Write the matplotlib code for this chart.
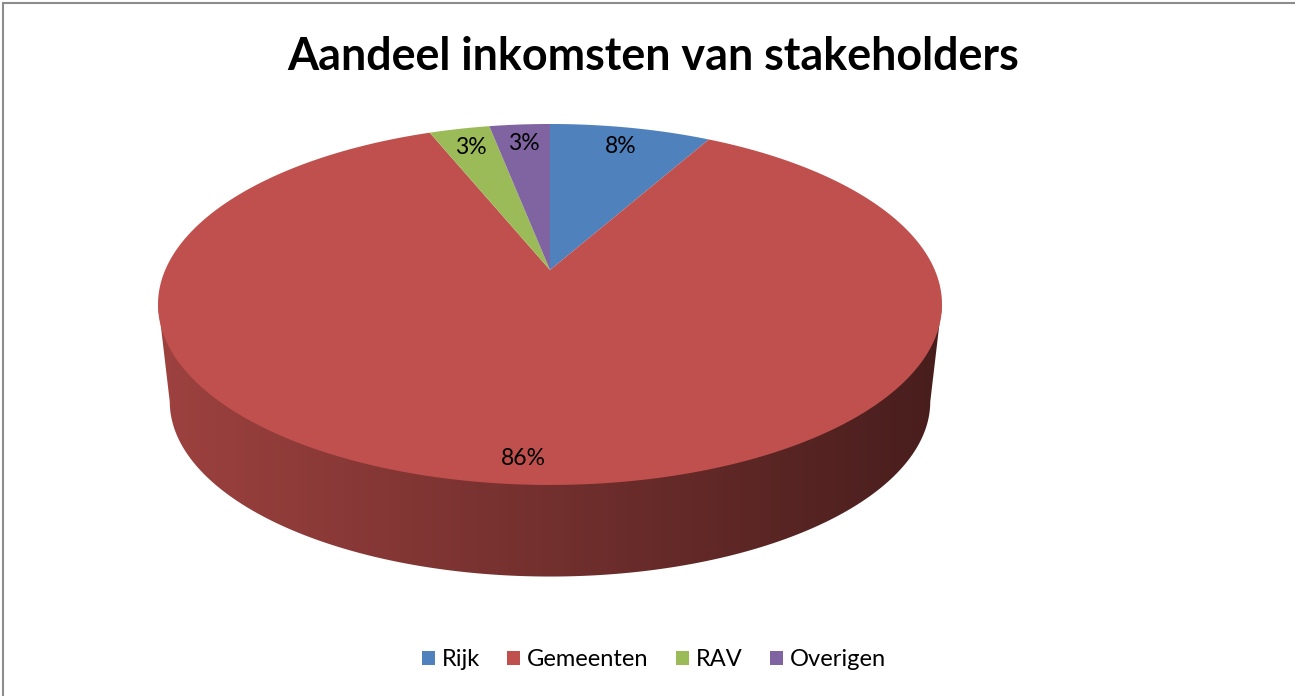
import numpy as np
import matplotlib
matplotlib.use("Agg")
import matplotlib.pyplot as plt
from matplotlib.patches import Polygon
from matplotlib.lines import Line2D
from matplotlib.path import Path
from matplotlib.transforms import Transform, Affine2D

# ---- data ----
categories = ["Rijk", "Gemeenten", "RAV", "Overigen"]
values = [8, 86, 3, 3]
pct_labels = ["8%", "86%", "3%", "3%"]
title = "Aandeel inkomsten van stakeholders"

# ---- style ----
colors = ["#4F81BD", "#C0504D", "#9BBB59", "#8064A2"]
label_radius = [0.85, 0.90, 0.85, 0.85]
FONT = ["Lato", "DejaVu Sans"]

W, H = 1295, 696
CX, CY = 550, 304          # pixel position of the ellipse centre (from top-left)
# perspective parameters (pixel units)
PA, PB, PC, PK = 384.8, 180.4, 34.0, 0.191
BOT_SCALE, BOT_DROP = 0.97, 97.0


def persp(uv):
    uv = np.asarray(uv, float)
    u, v = uv[:, 0], uv[:, 1]
    d = 1 + PK * v
    return np.column_stack([PA * u / d, (PB * v + PC) / d])


class Persp(Transform):
    input_dims = output_dims = 2

    def transform_non_affine(self, values):
        return persp(values)

    def transform_path_non_affine(self, path):
        S = 2000.0
        polys = path.to_polygons(transform=Affine2D().scale(S), closed_only=True)
        verts = np.vstack(polys) / S
        return Path(persp(verts), closed=True)


fig = plt.figure(figsize=(W / 100, H / 100), dpi=100)
ax = fig.add_axes([0, 0, 1, 1])

wedges, _ = ax.pie(values, colors=colors, startangle=90, counterclock=False,
                   radius=1, center=(0, 0), wedgeprops=dict(linewidth=0, zorder=3))
for w in wedges:
    w.set_transform(Persp() + ax.transData)

# side wall for the front-facing parts of each wedge
for w, col in zip(wedges, colors):
    t = np.linspace(w.theta1, w.theta2, 2000)
    front = np.sin(np.radians(t)) <= -PK
    if front.sum() < 2:
        continue
    tt = np.sort(np.radians(t[front]))
    top = persp(np.column_stack([np.cos(tt), np.sin(tt)]))
    bot = top[::-1] * BOT_SCALE
    bot[:, 1] -= BOT_DROP
    top_ext = top + np.array([0, 3.0])
    poly = Polygon(np.vstack([top_ext, bot]), closed=True, facecolor="none",
                   edgecolor="none", transform=ax.transData)
    ax.add_patch(poly)
    base = np.array(matplotlib.colors.to_rgb(col))
    x0, x1 = top[:, 0].min(), top[:, 0].max()
    fac = np.linspace(0.82, 0.37, 400)
    grad = (base[None, :] * fac[:, None])[None, :, :]
    im = ax.imshow(grad, extent=(x0, x1, bot[:, 1].min() - 2, top_ext[:, 1].max() + 2),
                   aspect="auto", zorder=1, interpolation="bilinear")
    im.set_clip_path(poly)

# percentage labels
for w, lab, r in zip(wedges, pct_labels, label_radius):
    mid = np.radians((w.theta1 + w.theta2) / 2)
    (px, py), = persp([[r * np.cos(mid), r * np.sin(mid)]])
    ax.text(px, py, lab, ha="center", va="center",
            fontsize=16.5, family=FONT, color="black", zorder=5)

ax.set_aspect("auto")
ax.set_xlim(-CX, W - CX)
ax.set_ylim(CY - H, CY)
ax.axis("off")

fig.text(653 / W, 1 - 57 / H, title, ha="center", va="center", fontsize=32.3,
         fontweight="bold", family=FONT)

leg = fig.legend(wedges, categories, loc="center", bbox_to_anchor=(654 / W, 1 - 660 / H),
                 ncol=4, frameon=False, prop={"family": FONT, "size": 17},
                 handlelength=0.55, handleheight=0.55, handletextpad=0.3,
                 columnspacing=1.15)

# chart border (top and left edges visible)
fig.add_artist(Line2D([3 / W, 1], [1 - 3 / H, 1 - 3 / H], color="#8c8c8c", lw=1.5,
                      transform=fig.transFigure))
fig.add_artist(Line2D([3 / W, 3 / W], [0, 1 - 3 / H], color="#8c8c8c", lw=1.5,
                      transform=fig.transFigure))

fig.savefig("out.png", dpi=100)
